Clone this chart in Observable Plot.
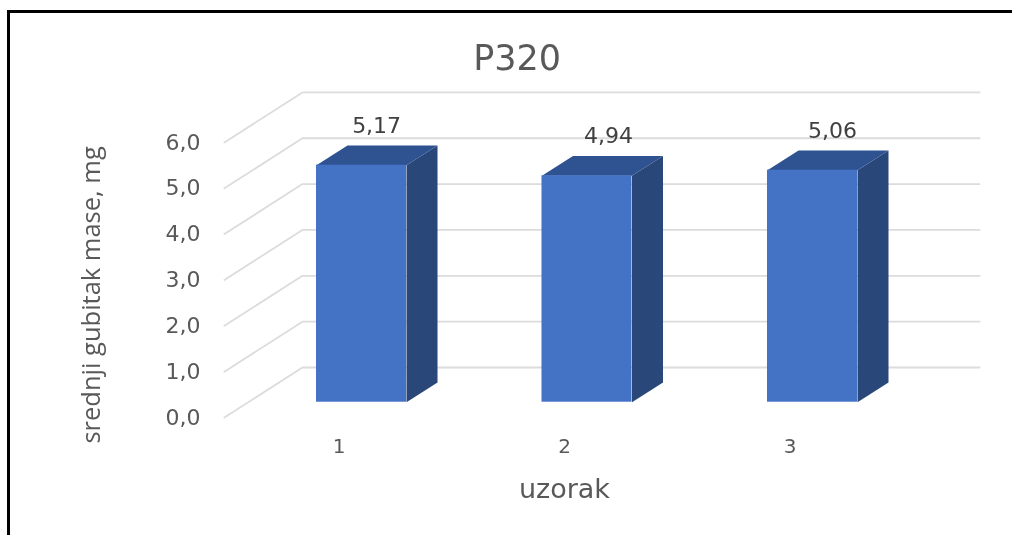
<!DOCTYPE html>
<html>
<head>
<meta charset="utf-8">
<script src="https://cdn.jsdelivr.net/npm/d3@7"></script>
<script src="https://cdn.jsdelivr.net/npm/@observablehq/plot@0.6"></script>
<style>
html,body{margin:0;padding:0;background:#fff;overflow:hidden;}
#frame{position:absolute;left:7px;top:10px;width:1012px;height:540px;border:3px solid #000;box-sizing:border-box;}
#chart{position:absolute;left:0;top:0;width:1012px;height:535px;filter:blur(0.45px);}
svg{display:block;}
</style>
</head>
<body>
<div id="frame"></div>
<div id="chart"></div>
<script>
const titleText = "P320";
const yLabel = "srednji gubitak mase, mg";
const xLabel = "uzorak";
const categories = [1, 2, 3];
const values = [5.17, 4.94, 5.06];
const yTicks = [0, 1, 2, 3, 4, 5, 6];
const labelShift = [0.067, 0.095, 0.089];

const comma = (v, d) => v.toFixed(d).replace(".", ",");

// oblique-projection constants, in data units
const halfBar = 0.1996, depthX = 0.1375, depthY = 0.43;
const gridFrontX = 0.392, gridBackX = 0.738, gridRightX = 3.741;
const gridFrontY = -0.334, gridBackY = 0.757;

const rows = categories.map((c, i) => ({c, v: values[i], s: labelShift[i]}));
const grid = yTicks.flatMap(t => [
  {t, x: gridFrontX, y: t + gridFrontY},
  {t, x: gridBackX, y: t + gridBackY},
  {t, x: gridRightX, y: t + gridBackY}
]);
const side = rows.flatMap(({c, v}) => [
  {c, x: c + halfBar, y: 0},
  {c, x: c + halfBar + depthX, y: depthY},
  {c, x: c + halfBar + depthX, y: v + depthY},
  {c, x: c + halfBar, y: v}
]);
const top_ = rows.flatMap(({c, v}) => [
  {c, x: c - halfBar, y: v},
  {c, x: c - halfBar + depthX, y: v + depthY},
  {c, x: c + halfBar + depthX, y: v + depthY},
  {c, x: c + halfBar, y: v}
]);

const gray = "#595959";
const wide = "'DejaVu Sans', sans-serif";
const sans = "'Open Sans', sans-serif";

const plot = Plot.plot({
  width: 1012,
  height: 535,
  marginLeft: 200,
  marginRight: 0,
  marginTop: 0,
  marginBottom: 100,
  style: {background: "transparent", fontFamily: wide},
  x: {type: "linear", domain: [0.286, 3.887], axis: null},
  y: {domain: [-0.726, 8.761], axis: null},
  marks: [
    Plot.line(grid, {x: "x", y: "y", z: "t", stroke: "#dcdcdc", strokeWidth: 1.8, curve: "linear"}),
    Plot.axisY(yTicks, {anchor: "left", tickSize: 0, tickPadding: 0, dy: 15.5, tickFormat: d => comma(d, 1), fontSize: 22, fill: gray, label: null}),
    Plot.axisX(categories, {anchor: "bottom", tickSize: 0, tickPadding: 3.5, dx: -22.5, tickFormat: d => String(d), fontSize: 20, fill: gray, label: null}),
    Plot.line(side, {x: "x", y: "y", z: "c", fill: "#2a4779", stroke: null, curve: "linear"}),
    Plot.line(top_, {x: "x", y: "y", z: "c", fill: "#2f5290", stroke: null, curve: "linear"}),
    Plot.rect(rows, {x1: d => d.c - halfBar, x2: d => d.c + halfBar, y1: 0, y2: "v", fill: "#4472c4"}),
    Plot.text(rows, {x: d => d.c + d.s, y: "v", text: d => comma(d.v, 2), dy: -39.5, fontSize: 22, fill: "#404040"}),
    Plot.text([titleText], {x: [1.69], y: [7.5], text: d => d, fontSize: 35, fill: gray}),
    Plot.text([xLabel], {x: [1.9], y: [-1.9], text: d => d, fontSize: 27, fill: gray}),
    Plot.text([yLabel], {x: [-0.197], y: [2.34], text: d => d, rotate: -90, fontSize: 25.5, fontFamily: sans, fill: gray})
  ]
});
document.getElementById("chart").appendChild(plot);
</script>
</body>
</html>
